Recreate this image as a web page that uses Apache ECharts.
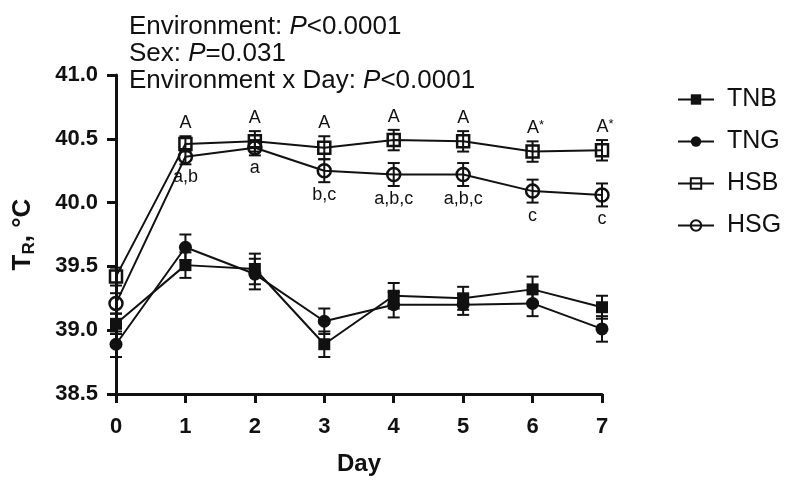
<!DOCTYPE html>
<html>
<head>
<meta charset="utf-8">
<script src="https://cdn.jsdelivr.net/npm/echarts@6/dist/echarts.min.js"></script>
<style>
  html, body { margin: 0; background: #fff; }
  #chart { width: 788px; height: 481px; }
</style>
</head>
<body>
<div id="chart"></div>
<script>
// rectal temperature by day, mean and SEM
const days = [0, 1, 2, 3, 4, 5, 6, 7]
const tnb = [39.05, 39.51, 39.48, 38.89, 39.27, 39.25, 39.32, 39.18]
const tng = [38.89, 39.65, 39.44, 39.07, 39.20, 39.20, 39.21, 39.01]
const hsb = [39.42, 40.46, 40.48, 40.43, 40.49, 40.48, 40.40, 40.41]
const hsg = [39.21, 40.36, 40.43, 40.25, 40.22, 40.22, 40.09, 40.06]
const tnbErr = [0.08, 0.10, 0.12, 0.10, 0.10, 0.09, 0.10, 0.09]
const tngErr = [0.10, 0.10, 0.12, 0.10, 0.10, 0.08, 0.10, 0.10]
const hsbErr = [0.07, 0.06, 0.08, 0.09, 0.08, 0.08, 0.08, 0.08]
const hsgErr = [0.08, 0.06, 0.06, 0.09, 0.09, 0.09, 0.09, 0.09]
const upperLabels = ['', 'A', 'A', 'A', 'A', 'A', 'A*', 'A*']
const lowerLabels = ['', 'a,b', 'a', 'b,c', 'a,b,c', 'a,b,c', 'c', 'c']

const font = '"Liberation Sans", Arial, Helvetica, sans-serif'
const ink = '#111'

const chart = echarts.init(document.getElementById('chart'))

const errorBars = (name, means, errs) => ({
  type: 'custom',
  name: name + ' SEM',
  z: 1,
  silent: true,
  data: days.map((d, i) => [d, means[i] - errs[i], means[i] + errs[i]]),
  renderItem: (params, api) => {
    const lo = api.coord([api.value(0), api.value(1)])
    const hi = api.coord([api.value(0), api.value(2)])
    const w = 6
    const s = { stroke: ink, lineWidth: 2 }
    return {
      type: 'group',
      children: [
        { type: 'line', shape: { x1: lo[0], y1: lo[1], x2: hi[0], y2: hi[1] }, style: s },
        { type: 'line', shape: { x1: lo[0] - w, y1: lo[1], x2: lo[0] + w, y2: lo[1] }, style: s },
        { type: 'line', shape: { x1: hi[0] - w, y1: hi[1], x2: hi[0] + w, y2: hi[1] }, style: s }
      ]
    }
  }
})

// letters above HSB bars and below HSG bars
const letters = (means, errs, texts, above) => ({
  type: 'custom',
  name: above ? 'upper' : 'lower',
  z: 5,
  silent: true,
  data: days.map((d, i) => [d, above ? means[i] + errs[i] : means[i] - errs[i]]),
  renderItem: (params, api) => {
    const p = api.coord([api.value(0), api.value(1)])
    const t = texts[params.dataIndex]
    if (!t) return null
    const star = t.endsWith('*')
    return {
      type: 'text',
      x: p[0] + (star ? 3 : 0),
      y: above ? p[1] - 4 : p[1] + 4,
      style: {
        text: star ? '{a|' + t.slice(0, -1) + '}{s|*}' : t,
        fill: ink,
        fontFamily: font,
        fontSize: 18,
        align: 'center',
        verticalAlign: above ? 'bottom' : 'top',
        rich: {
          a: { fontSize: 18, fontFamily: font, fill: ink },
          s: { fontSize: 13, fontFamily: font, fill: ink, verticalAlign: 'top' }
        }
      }
    }
  }
})

const lineSeries = (name, values, symbol, filled) => ({
  type: 'line',
  name,
  z: 3,
  data: days.map((d, i) => [d, values[i]]),
  symbol,
  symbolSize: symbol === 'rect' ? 12 : 13,
  showSymbol: true,
  lineStyle: { color: ink, width: 2 },
  itemStyle: {
    color: filled ? ink : 'rgba(255,255,255,0)',
    borderColor: ink,
    borderWidth: filled ? 0 : 2.5
  },
  emphasis: { disabled: true }
})

const option = {
  animation: false,
  backgroundColor: '#fff',
  title: {
    left: 124,
    top: 8,
    text: '{n|Environment: }{i|P}{n|<0.0001}\n{n|Sex: }{i|P}{n|=0.031}\n{n|Environment x Day: }{i|P}{n|<0.0001}',
    textStyle: {
      fontWeight: 'normal',
      rich: {
        n: { fontFamily: font, fontSize: 26, fontWeight: 'normal', color: ink, lineHeight: 27 },
        i: { fontFamily: font, fontSize: 26, fontWeight: 'normal', color: ink, fontStyle: 'italic', lineHeight: 27 }
      }
    }
  },
  legend: {
    orient: 'vertical',
    left: 672,
    top: 82,
    itemWidth: 36,
    itemHeight: 13,
    itemGap: 17,
    data: ['TNB', 'TNG', 'HSB', 'HSG'],
    textStyle: { fontFamily: font, fontSize: 25, color: ink, padding: [0, 0, 0, 8] }
  },
  grid: { left: 116, right: 186, top: 75, bottom: 86 },
  xAxis: {
    type: 'value',
    min: 0,
    max: 7,
    interval: 1,
    name: 'Day',
    nameLocation: 'middle',
    nameGap: 58,
    nameTextStyle: { fontFamily: font, fontSize: 24, fontWeight: 'bold', color: ink },
    axisLine: { lineStyle: { color: ink, width: 3 } },
    axisTick: { length: 9, lineStyle: { color: ink, width: 3 } },
    axisLabel: { fontFamily: font, fontSize: 22, fontWeight: 'bold', color: ink, margin: 22 },
    splitLine: { show: false }
  },
  yAxis: {
    type: 'value',
    min: 38.5,
    max: 41,
    interval: 0.5,
    name: '{t|T}{s|R}{t|, °C}',
    nameLocation: 'middle',
    nameRotate: 90,
    nameGap: 78,
    nameTextStyle: {
      rich: {
        t: { fontFamily: font, fontSize: 26, fontWeight: 'bold', color: ink, lineHeight: 30 },
        s: { fontFamily: font, fontSize: 17, fontWeight: 'bold', color: ink, verticalAlign: 'bottom', lineHeight: 30 }
      }
    },
    axisLine: { show: true, lineStyle: { color: ink, width: 3 } },
    axisTick: { show: true, length: 9, lineStyle: { color: ink, width: 3 } },
    axisLabel: {
      fontFamily: font, fontSize: 22, fontWeight: 'bold', color: ink, margin: 18,
      formatter: v => v.toFixed(1)
    },
    splitLine: { show: false }
  },
  series: [
    errorBars('TNB', tnb, tnbErr),
    errorBars('TNG', tng, tngErr),
    errorBars('HSB', hsb, hsbErr),
    errorBars('HSG', hsg, hsgErr),
    lineSeries('TNB', tnb, 'rect', true),
    lineSeries('TNG', tng, 'circle', true),
    lineSeries('HSB', hsb, 'rect', false),
    lineSeries('HSG', hsg, 'circle', false),
    letters(hsb, hsbErr, upperLabels, true),
    letters(hsg, hsgErr, lowerLabels, false)
  ]
}

chart.setOption(option)
</script>
</body>
</html>
